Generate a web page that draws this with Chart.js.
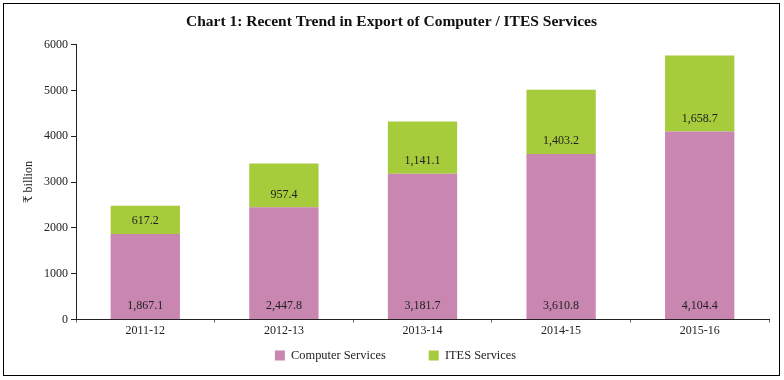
<!DOCTYPE html>
<html>
<head>
<meta charset="utf-8">
<script src="https://cdn.jsdelivr.net/npm/chart.js@4/dist/chart.umd.min.js"></script>
<style>
  html, body { margin: 0; padding: 0; background: #fff; }
  #wrap { position: relative; width: 784px; height: 380px; }
  canvas { display: block; }
</style>
</head>
<body>
<div id="wrap"><canvas id="c" width="784" height="380"></canvas></div>
<script>
const categories = ['2011-12', '2012-13', '2013-14', '2014-15', '2015-16'];
const computerServices = [1867.1, 2447.8, 3181.7, 3610.8, 4104.4];
const itesServices = [617.2, 957.4, 1141.1, 1403.2, 1658.7];
const seriesNames = ['Computer Services', 'ITES Services'];
const yTicks = [0, 1000, 2000, 3000, 4000, 5000, 6000];

const SERIF = "'Liberation Serif', 'DejaVu Serif', serif";
const PINK = '#C886B0';
const GREEN = '#A6CB3B';
const LEGEND_TEXT_Y = 355.5;

const framePlugin = {
  id: 'frame',
  afterLayout(chart) {
    // move legend so its text row sits at the reference position
    const lg = chart.legend;
    if (lg) {
      const pad = chart.options.plugins.legend.labels.padding;
      const size = chart.options.plugins.legend.labels.font.size;
      const newTop = LEGEND_TEXT_Y - pad - size / 2;
      lg.top = newTop;
      lg.height = 80;
      lg.bottom = newTop + 80;
    }
    const tb = chart.titleBlock;
    if (tb) { tb.left -= 4; tb.right -= 4; }
  },
  afterDraw(chart) {
    const ctx = chart.ctx;
    ctx.save();
    ctx.strokeStyle = '#000';
    ctx.lineWidth = 1;
    ctx.strokeRect(3.5, 3.5, 776, 372);
    ctx.restore();
  }
};

const fmt = v => v.toLocaleString('en-US', { minimumFractionDigits: 1, maximumFractionDigits: 1 });

const labelPlugin = {
  id: 'barLabels',
  afterDatasetsDraw(chart) {
    const ctx = chart.ctx;
    ctx.save();
    ctx.font = '12px ' + SERIF;
    ctx.fillStyle = '#222';
    ctx.textAlign = 'center';
    ctx.textBaseline = 'middle';
    chart.data.datasets.forEach((ds, di) => {
      const meta = chart.getDatasetMeta(di);
      meta.data.forEach((bar, i) => {
        const p = bar.getProps(['x', 'y', 'base'], true);
        ctx.fillText(fmt(ds.data[i]), p.x, p.base - 13);
      });
    });
    ctx.restore();
  }
};

new Chart(document.getElementById('c'), {
  type: 'bar',
  data: {
    labels: categories,
    datasets: [
      { label: seriesNames[0], data: computerServices, backgroundColor: PINK, borderWidth: 0 },
      { label: seriesNames[1], data: itesServices, backgroundColor: GREEN, borderWidth: 0 }
    ]
  },
  options: {
    responsive: false,
    animation: false,
    devicePixelRatio: 1,
    layout: { padding: { left: 22, right: 15, top: 0, bottom: 14.5 } },
    datasets: { bar: { categoryPercentage: 1, barPercentage: 0.5 } },
    plugins: {
      title: {
        display: true,
        text: 'Chart 1: Recent Trend in Export of Computer / ITES Services',
        font: { family: SERIF, size: 15.5, weight: 'bold' },
        color: '#111',
        padding: { top: 13, bottom: 13 }
      },
      legend: {
        position: 'bottom',
        maxHeight: 20,
        labels: {
          font: { family: SERIF, size: 12.4 },
          color: '#222',
          boxWidth: 10,
          boxHeight: 10,
          padding: 43
        }
      },
      tooltip: { enabled: false }
    },
    scales: {
      x: {
        stacked: true,
        grid: { display: true, drawOnChartArea: false, drawTicks: true, tickLength: 3, color: '#666', offset: true },
        border: { display: true, color: '#222', width: 1 },
        ticks: { font: { family: SERIF, size: 12 }, color: '#222', padding: 1 },
        afterFit(s) { s.height = 26; }
      },
      y: {
        stacked: true,
        min: 0,
        max: 6000,
        afterBuildTicks(s) { s.ticks = yTicks.map(v => ({ value: v })); },
        grid: { display: true, drawOnChartArea: false, drawTicks: true, tickLength: 5, color: '#222' },
        border: { display: true, color: '#222', width: 1 },
        ticks: { font: { family: SERIF, size: 12 }, color: '#222', padding: 3, callback: v => String(v) },
        title: {
          display: true,
          text: '₹ billion',
          font: { family: SERIF, size: 12 },
          color: '#222',
          padding: 0
        },
        afterFit(s) { s.width = 54; }
      }
    }
  },
  plugins: [framePlugin, labelPlugin]
});
</script>
</body>
</html>
